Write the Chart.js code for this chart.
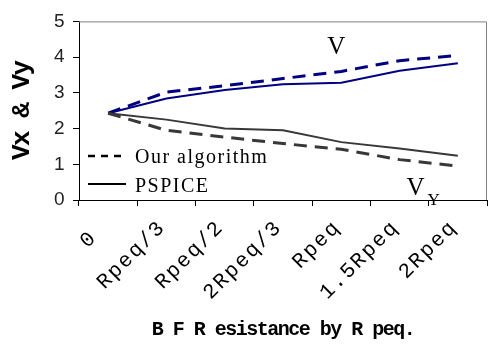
<!DOCTYPE html>
<html>
<head>
<meta charset="utf-8">
<script src="https://cdn.jsdelivr.net/npm/chart.js@4/dist/chart.umd.min.js"></script>
<style>
  html, body { margin: 0; padding: 0; background: #ffffff; }
  #wrap { width: 488px; height: 350px; position: relative; }
</style>
</head>
<body>
<div id="wrap"><canvas id="c" width="488" height="350"></canvas></div>
<script>
// ---- data ----
const categories = ['0 ', 'Rpeq/3', 'Rpeq/2', '2Rpeq/3', 'Rpeq', '1.5Rpeq', '2Rpeq'];
const vxAlgorithm = [2.43, 3.02, 3.20, 3.40, 3.60, 3.90, 4.05];
const vxPspice    = [2.43, 2.84, 3.08, 3.24, 3.28, 3.62, 3.83];
const vyAlgorithm = [2.43, 1.95, 1.76, 1.58, 1.42, 1.13, 0.95];
const vyPspice    = [2.43, 2.25, 2.00, 1.95, 1.62, 1.44, 1.24];
const yTicks = [0, 1, 2, 3, 4, 5];
const legendLabels = ['Our algorithm', 'PSPICE'];
const xTitle = 'B F R esistance by R peq.';
const yTitle = 'Vx & Vy';

const BLUE = '#000080';
const GREY = '#383838';

const decor = {
  id: 'decor',
  beforeDraw(chart) {
    chart.ctx.letterSpacing = '-1.5px';
  },
  afterDatasetsDraw(chart) {
    chart.ctx.letterSpacing = '2px';
  },
  afterDraw(chart) {
    const ctx = chart.ctx;
    ctx.letterSpacing = '0px';
    const { left, right, top, bottom } = chart.chartArea;
    const xs = chart.scales.x, ys = chart.scales.y;
    ctx.save();
    // top & right frame
    ctx.strokeStyle = '#808080';
    ctx.lineWidth = 1;
    ctx.beginPath();
    ctx.moveTo(left, top + 0.5);
    ctx.lineTo(right - 0.5, top + 0.5);
    ctx.lineTo(right - 0.5, bottom);
    ctx.stroke();

    // legend (inside the plot, lower left)
    ctx.strokeStyle = '#000';
    ctx.lineWidth = 2.5;
    ctx.setLineDash([7, 6]);
    ctx.beginPath();
    ctx.moveTo(left + 9, bottom - 44);
    ctx.lineTo(left + 47, bottom - 44);
    ctx.stroke();
    ctx.setLineDash([]);
    ctx.lineWidth = 2;
    ctx.beginPath();
    ctx.moveTo(left + 9, bottom - 16);
    ctx.lineTo(left + 47, bottom - 16);
    ctx.stroke();

    ctx.fillStyle = '#000';
    ctx.font = '20px "Liberation Serif"';
    ctx.letterSpacing = '1.5px';
    ctx.textAlign = 'left';
    ctx.textBaseline = 'alphabetic';
    ctx.fillText(legendLabels[0], left + 56, bottom - 37);
    ctx.fillText(legendLabels[1], left + 56, bottom - 8);
    ctx.letterSpacing = '0px';

    // series annotations
    ctx.font = '25px "Liberation Serif"';
    ctx.fillText('V', xs.getPixelForValue(4) - 14, ys.getPixelForValue(4.1));
    ctx.fillText('V', xs.getPixelForValue(5) + 7, ys.getPixelForValue(0.14));
    ctx.font = '17px "Liberation Serif"';
    ctx.fillText('Y', xs.getPixelForValue(5) + 28, ys.getPixelForValue(-0.14));
    ctx.restore();
  }
};

const lineDs = (label, data, color, dashed) => ({
  label,
  data,
  borderColor: color,
  backgroundColor: color,
  borderWidth: dashed ? 3 : 2,
  borderDash: dashed ? [13, 8] : [],
  pointRadius: 0,
  tension: 0,
  fill: false
});

new Chart(document.getElementById('c'), {
  type: 'line',
  data: {
    labels: categories,
    datasets: [
      lineDs('Vy PSPICE', vyPspice, GREY, false),
      lineDs('Vy Our algorithm', vyAlgorithm, GREY, true),
      lineDs('Vx PSPICE', vxPspice, BLUE, false),
      lineDs('Vx Our algorithm', vxAlgorithm, BLUE, true)
    ]
  },
  options: {
    responsive: false,
    animation: false,
    devicePixelRatio: 1,
    layout: { padding: { top: 15, right: 1, left: 0, bottom: 0 } },
    plugins: { legend: { display: false }, tooltip: { enabled: false } },
    scales: {
      x: {
        type: 'category',
        offset: true,
        afterFit: (s) => { s.height = 150; },
        grid: { display: true, offset: true, drawOnChartArea: false, drawTicks: true, tickLength: 6, color: '#000' },
        border: { display: true, color: '#000', width: 1 },
        ticks: {
          z: 1,
          autoSkip: false,
          minRotation: 45,
          maxRotation: 45,
          padding: 9,
          labelOffset: -4,
          color: '#000',
          font: { family: '"Liberation Mono"', size: 21 }
        },
        title: {
          display: true,
          text: xTitle,
          color: '#000',
          font: { family: '"Liberation Mono"', size: 20, weight: 'bold' },
          padding: { top: 0, bottom: 8 }
        }
      },
      y: {
        min: 0,
        max: 5,
        afterFit: (s) => { s.width = 79; },
        afterBuildTicks: (s) => { s.ticks = yTicks.map(v => ({ value: v })); },
        grid: { display: true, drawOnChartArea: false, drawTicks: true, tickLength: 6, color: '#000' },
        border: { display: true, color: '#000', width: 1 },
        ticks: {
          padding: 10,
          color: '#222',
          font: { family: '"Liberation Sans"', size: 19 }
        },
        title: {
          display: true,
          text: yTitle,
          color: '#000',
          font: { family: '"Liberation Mono"', size: 26, weight: 'bold' },
          padding: { top: 7, bottom: 0 }
        }
      }
    }
  },
  plugins: [decor]
});
</script>
</body>
</html>
